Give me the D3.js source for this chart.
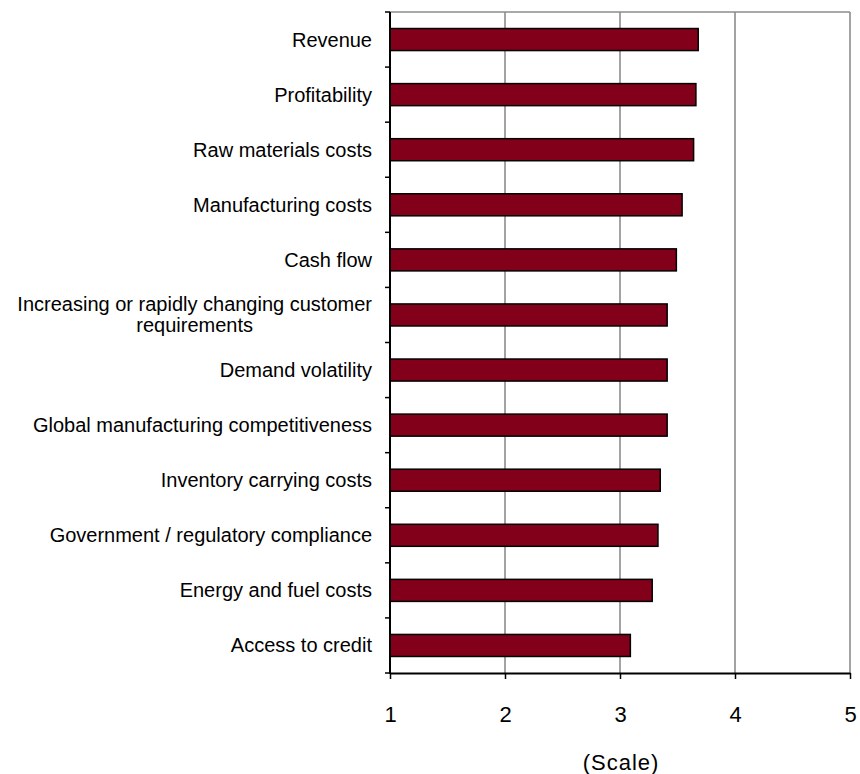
<!DOCTYPE html>
<html>
<head>
<meta charset="utf-8">
<script src="https://cdn.jsdelivr.net/npm/d3@7"></script>
<style>
  html, body { margin: 0; padding: 0; background: #fff; }
  svg { display: block; font-family: "Liberation Sans", Arial, sans-serif; }
</style>
</head>
<body>
<svg id="chart" width="860" height="774"></svg>
<script>
// Business concerns, rated on a 1–5 scale
const categories = [
  "Revenue",
  "Profitability",
  "Raw materials costs",
  "Manufacturing costs",
  "Cash flow",
  "Increasing or rapidly changing customer\nrequirements",
  "Demand volatility",
  "Global manufacturing competitiveness",
  "Inventory carrying costs",
  "Government / regulatory compliance",
  "Energy and fuel costs",
  "Access to credit"
];
const values = [3.68, 3.66, 3.64, 3.54, 3.49, 3.41, 3.41, 3.41, 3.35, 3.33, 3.28, 3.09];
const xTicks = [1, 2, 3, 4, 5];
const xTitle = "(Scale)";

const svg = d3.select("#chart");
const plot = { left: 390, right: 850, top: 12, bottom: 673 };

const x = d3.scaleLinear().domain([1, 5]).range([plot.left, plot.right]);
const y = d3.scaleBand().domain(categories).range([plot.top, plot.bottom])
  .paddingInner(0.6).paddingOuter(0.3);

// vertical gridlines and plot frame
svg.append("g").selectAll("line").data(xTicks.slice(1)).join("line")
  .attr("x1", d => x(d)).attr("x2", d => x(d))
  .attr("y1", plot.top).attr("y2", plot.bottom)
  .attr("stroke", "#8c8c8c").attr("stroke-width", 1.6);
svg.append("line")
  .attr("x1", plot.left).attr("x2", plot.right)
  .attr("y1", plot.top).attr("y2", plot.top)
  .attr("stroke", "#8c8c8c").attr("stroke-width", 1.6);

// bars
svg.append("g").selectAll("rect").data(categories).join("rect")
  .attr("x", x(1))
  .attr("y", d => y(d))
  .attr("width", (d, i) => x(values[i]) - x(1))
  .attr("height", y.bandwidth())
  .attr("fill", "#83001b")
  .attr("stroke", "#000").attr("stroke-width", 1.5);

// x axis
const xAxis = svg.append("g")
  .attr("transform", `translate(0,${plot.bottom})`)
  .call(d3.axisBottom(x).tickValues(xTicks).tickFormat(d3.format("d"))
    .tickSizeInner(6).tickSizeOuter(0).tickPadding(27));
xAxis.select(".domain").attr("stroke", "#000").attr("stroke-width", 2);
xAxis.selectAll(".tick line").attr("stroke", "#000").attr("stroke-width", 1.5);
xAxis.selectAll(".tick text")
  .attr("font-size", 22).attr("fill", "#000")
  .attr("font-family", "'Liberation Sans', Arial, sans-serif");

// y axis line with ticks at category boundaries
const bandStep = (plot.bottom - plot.top) / categories.length;
const boundaries = d3.range(categories.length + 1).map(k => plot.top + k * bandStep);
svg.append("line")
  .attr("x1", plot.left).attr("x2", plot.left)
  .attr("y1", plot.top).attr("y2", plot.bottom + 1)
  .attr("stroke", "#000").attr("stroke-width", 2);
svg.append("g").selectAll("line").data(boundaries).join("line")
  .attr("x1", plot.left - 5).attr("x2", plot.left)
  .attr("y1", d => d).attr("y2", d => d)
  .attr("stroke", "#000").attr("stroke-width", 1.5);

// category labels, multi-line ones centred on their longest line
const labelRight = 372;
const lineH = 21;
const labels = svg.append("g").attr("font-size", 20).attr("fill", "#000");
categories.forEach(c => {
  const lines = c.split("\n");
  const cy = y(c) + y.bandwidth() / 2;
  const t = labels.append("text");
  lines.forEach((ln, j) => {
    t.append("tspan").text(ln)
      .attr("y", cy + (j - (lines.length - 1) / 2) * lineH)
      .attr("dy", "0.35em");
  });
  if (lines.length === 1) {
    t.attr("text-anchor", "end").selectAll("tspan").attr("x", labelRight);
  } else {
    let w = 0;
    t.selectAll("tspan").each(function () { w = Math.max(w, this.getComputedTextLength()); });
    t.attr("text-anchor", "middle").selectAll("tspan").attr("x", labelRight - w / 2);
  }
});

// axis title
svg.append("text")
  .attr("x", x(3) + 1).attr("y", 762).attr("dy", "0.35em")
  .attr("text-anchor", "middle").attr("font-size", 22).attr("fill", "#000")
  .attr("letter-spacing", 1)
  .text(xTitle);
</script>
</body>
</html>
